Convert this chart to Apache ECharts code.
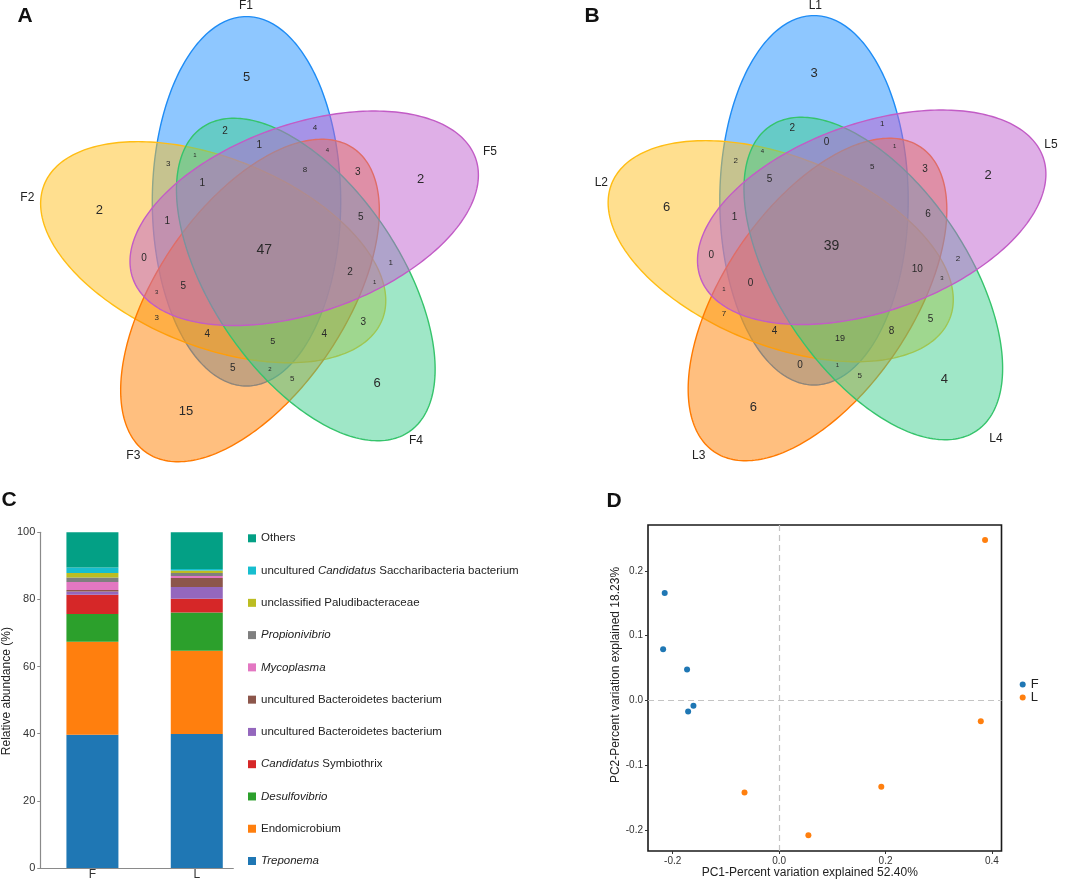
<!DOCTYPE html>
<html><head><meta charset="utf-8">
<script src="https://cdn.jsdelivr.net/npm/echarts@6/dist/echarts.min.js"></script>
<style>html,body{margin:0;padding:0;background:#fff}#c{width:1072px;height:881px}</style>
</head><body><div id="c"></div>
<script>
// ================= DATA =================
// Venn (A: F samples, B: L samples) – region counts
const SETS_A = ['F1', 'F2', 'F3', 'F4', 'F5'];
const SETS_B = ['L1', 'L2', 'L3', 'L4', 'L5'];
const COUNTS_A = [5, 2, 4, 1, 4, 1, 3, 8, 3, 2, 1, 2, 5, 1, 47, 0, 1, 2, 1, 5, 3, 3, 3, 4, 4, 5, 5, 2, 5, 6, 15];
const COUNTS_B = [3, 2, 1, 0, 1, 4, 2, 5, 3, 2, 5, 6, 6, 1, 39, 0, 2, 10, 3, 0, 1, 7, 5, 4, 8, 19, 0, 1, 5, 4, 6];

// Stacked bars (C)
const BAR_CATEGORIES = ['F', 'L'];
const TAXA = ['Treponema', 'Endomicrobium', 'Desulfovibrio', 'Candidatus Symbiothrix',
  'uncultured Bacteroidetes bacterium', 'uncultured Bacteroidetes bacterium', 'Mycoplasma',
  'Propionivibrio', 'unclassified Paludibacteraceae', 'uncultured Candidatus Saccharibacteria bacterium', 'Others'];
const F_ABUND = [39.7, 27.7, 8.3, 5.7, 1.0, 0.4, 2.4, 1.3, 1.4, 1.6, 10.5];
const L_ABUND = [39.9, 24.8, 11.4, 4.1, 3.5, 2.7, 0.6, 0.9, 0.7, 0.5, 10.9];
const ABUND_TICKS = [0, 20, 40, 60, 80, 100];

// PCoA (D)
const PCOA_F = [[-0.215, 0.166], [-0.218, 0.079], [-0.173, 0.048], [-0.161, -0.008], [-0.171, -0.017]];
const PCOA_L = [[0.387, 0.248], [0.379, -0.032], [0.192, -0.133], [0.055, -0.208], [-0.065, -0.142]];
const PC1_TICKS = [-0.2, 0.0, 0.2, 0.4];
const PC2_TICKS = [-0.2, -0.1, 0.0, 0.1, 0.2];

// ================= LAYOUT / STYLE =================
// ellipse geometry [cx, cy, semiMajor, semiMinor, angleDeg] in panel pixel units
const VENN_ELLIPSES = [
  [246.5, 201.3, 184.7, 94.2, 90],
  [213.2, 252.2, 182.0, 94.2, -21.8],
  [250.0, 300.5, 184.0, 94.2, 55.9],
  [305.8, 279.5, 184.0, 94.2, -55.9],
  [304.2, 218.3, 181.6, 94.2, 19.3]
];
const VENN_COLORS = [
  {fill: 'rgba(30,144,255,0.5)', stroke: '#1e8cf5'},
  {fill: 'rgba(255,192,31,0.5)', stroke: '#ffbd14'},
  {fill: 'rgba(255,128,0,0.5)', stroke: '#ff7a00'},
  {fill: 'rgba(64,208,144,0.5)', stroke: '#36c46c'},
  {fill: 'rgba(192,96,208,0.5)', stroke: '#c25cc6'}
];
// region label positions [x, y, fontSize] (panel A frame)
const REGION_LAYOUT = [
  [246.7, 77.3, 13], [225, 131.7, 10], [315, 127.7, 8], [259.3, 145.7, 10], [327.3, 150, 6],
  [195, 155, 6], [168.3, 164, 8], [305, 170, 8], [357.7, 172.3, 10], [420.7, 179, 13],
  [202.3, 183, 10], [99.3, 210.7, 13], [360.7, 217.3, 10], [167.3, 221, 10], [264.3, 250, 14],
  [144, 258.3, 10], [390.7, 262.3, 8], [350, 272.3, 10], [374.7, 282.3, 6], [183.3, 286.7, 10],
  [156.7, 292.7, 6], [156.7, 317.3, 8], [363.3, 322.7, 10], [207.3, 334.3, 10], [324.3, 334.3, 10],
  [272.7, 341.7, 9], [232.7, 368.7, 10], [270, 369, 6], [292.3, 379, 8], [377, 383.3, 13],
  [186, 411.3, 13]
];
const SET_POS_A = [[246, 6], [27.3, 197.3], [133.3, 455.7], [416, 441], [490, 151.7]];
const SET_POS_B = [[279.3, 6], [65.3, 182.3], [162.7, 455.7], [460, 438.3], [515, 144.3]];
const B_ELLIPSE_SHIFT = [31.5, -1];
const B_LABEL_SHIFT = [31.3, -3.5];

const TAXA_COLORS = ['#1f77b4', '#ff7f0e', '#2ca02c', '#d62728', '#9467bd', '#8c564b', '#e377c2',
  '#7f7f7f', '#bcbd22', '#17becf', '#03a085'];
const TAXA_RICH = ['{i|Treponema}', '{n|Endomicrobium}', '{i|Desulfovibrio}', '{i|Candidatus}{n| Symbiothrix}',
  '{n|uncultured Bacteroidetes bacterium}', '{n|uncultured Bacteroidetes bacterium}', '{i|Mycoplasma}',
  '{i|Propionivibrio}', '{n|unclassified Paludibacteraceae}',
  '{n|uncultured }{i|Candidatus}{n| Saccharibacteria bacterium}', '{n|Others}'];
const BAR_POS = [0.5, 1.5];

const FONT = 'Liberation Sans, Arial, Helvetica, sans-serif';
const chart = echarts.init(document.getElementById('c'), null, {renderer: 'canvas'});

// unique series names for duplicated taxon names (zero-width suffix)
const seriesNames = TAXA.map((t, i) => TAXA.indexOf(t) === i ? t : t + '\u200b');

function ellipseRender(dx, dy) {
  return function (params, api) {
    const cx = api.value(0) + dx, cy = api.value(1) + dy, a = api.value(2), b = api.value(3);
    const th = api.value(4) * Math.PI / 180;
    const pts = [];
    for (let k = 0; k < 240; k++) {
      const t = k / 240 * 2 * Math.PI;
      const x = cx + a * Math.cos(t) * Math.cos(th) - b * Math.sin(t) * Math.sin(th);
      const y = cy - (a * Math.cos(t) * Math.sin(th) + b * Math.sin(t) * Math.cos(th));
      pts.push(api.coord([x, y]));
    }
    const col = VENN_COLORS[params.dataIndex];
    return {type: 'polygon', shape: {points: pts}, style: {fill: col.fill, stroke: col.stroke, lineWidth: 1.4}};
  };
}
function textRender(params, api) {
  const p = api.coord([api.value(0), api.value(1)]);
  return {type: 'text', x: p[0], y: p[1], style: {
    text: String(api.value(2)), fontSize: api.value(3), fontFamily: FONT, fill: '#2a2a2a',
    align: 'center', verticalAlign: 'middle', textAlign: 'center', textVerticalAlign: 'middle'}};
}
function setLabelRender(params, api) {
  const p = api.coord([api.value(0), api.value(1)]);
  return {type: 'text', x: p[0], y: p[1], style: {
    text: api.value(2), fontSize: 12, fontFamily: FONT, fill: '#222',
    align: 'center', verticalAlign: 'middle', textAlign: 'center', textVerticalAlign: 'middle'}};
}

const vennAxis = (gi) => ({gridIndex: gi, type: 'value', min: 0, max: 536, show: false});
const vennYAxis = (gi) => ({gridIndex: gi, type: 'value', min: 0, max: 520, inverse: true, show: false});

const regionA = REGION_LAYOUT.map((p, i) => [p[0], p[1], COUNTS_A[i], p[2]]);
const regionB = REGION_LAYOUT.map((p, i) => [p[0] + B_LABEL_SHIFT[0], p[1] + B_LABEL_SHIFT[1], COUNTS_B[i], p[2]]);
const setA = SET_POS_A.map((p, i) => [p[0], p[1], SETS_A[i]]);
const setB = SET_POS_B.map((p, i) => [p[0], p[1], SETS_B[i]]);

// value first so that the y dimension is the stacked one
const barSeries = TAXA.map((t, i) => ({
  name: seriesNames[i], type: 'bar', xAxisIndex: 2, yAxisIndex: 2, stack: 'abund', barWidth: 52,
  itemStyle: {color: TAXA_COLORS[i]},
  dimensions: ['abund', 'pos'], encode: {x: 1, y: 0},
  data: [[F_ABUND[i], BAR_POS[0]], [L_ABUND[i], BAR_POS[1]]]
}));

const option = {
  animation: false,
  textStyle: {fontFamily: FONT},
  grid: [
    {left: 0, top: 0, width: 536, height: 520},
    {left: 536, top: 0, width: 536, height: 520},
    {left: 39, top: 532.3, width: 194.3, height: 336.7},
    {left: 648, top: 525, width: 353.5, height: 326, show: true, borderColor: '#1a1a1a', borderWidth: 1.6}
  ],
  xAxis: [
    vennAxis(0), vennAxis(1),
    {gridIndex: 2, type: 'value', min: 0, max: 1.85, splitLine: {show: false},
      axisLine: {show: true, onZero: false, lineStyle: {color: '#8a8a8a', width: 1.2}},
      axisTick: {show: false},
      axisLabel: {customValues: BAR_POS, formatter: v => BAR_CATEGORIES[Math.round(v - 0.5)], fontSize: 12, color: '#333', margin: 1}},
    {gridIndex: 3, type: 'value', min: -0.2464, max: 0.4179, splitLine: {show: false},
      axisLine: {show: false, onZero: false},
      axisTick: {show: true, customValues: PC1_TICKS, length: 3, lineStyle: {color: '#333'}},
      axisLabel: {customValues: PC1_TICKS, formatter: v => v.toFixed(1), fontSize: 10, color: '#333', margin: 5},
      name: 'PC1-Percent variation explained 52.40%', nameLocation: 'middle', nameGap: 14,
      nameTextStyle: {fontSize: 12, color: '#222', padding: [0, 30, 0, 0]}}
  ],
  yAxis: [
    vennYAxis(0), vennYAxis(1),
    {gridIndex: 2, type: 'value', min: 0, max: 100, interval: 20, splitLine: {show: false},
      axisLine: {show: true, onZero: false, lineStyle: {color: '#8a8a8a', width: 1.2}},
      axisTick: {show: true, length: 3, lineStyle: {color: '#8a8a8a'}},
      axisLabel: {fontSize: 11, color: '#333', margin: 5},
      name: 'Relative abundance (%)', nameLocation: 'middle', nameGap: 23,
      nameTextStyle: {fontSize: 12, color: '#222', padding: [0, 0, 0, 18]}},
    {gridIndex: 3, type: 'value', min: -0.2324, max: 0.271, splitLine: {show: false},
      axisLine: {show: false, onZero: false},
      axisTick: {show: true, customValues: PC2_TICKS, length: 3, lineStyle: {color: '#333'}},
      axisLabel: {customValues: PC2_TICKS, formatter: v => v.toFixed(1), fontSize: 10, color: '#333', margin: 5},
      name: 'PC2-Percent variation explained 18.23%', nameLocation: 'middle', nameGap: 20,
      nameTextStyle: {fontSize: 12, color: '#222', padding: [0, 0, 0, 26]}}
  ],
  legend: [
    {data: seriesNames.slice().reverse(), orient: 'vertical', left: 248, top: 531.3, padding: 0,
      icon: 'rect', itemWidth: 8, itemHeight: 8, itemGap: 18.27, selectedMode: false,
      formatter: name => TAXA_RICH[seriesNames.indexOf(name)],
      textStyle: {fontSize: 11.5, lineHeight: 14, color: '#222',
        rich: {n: {fontSize: 11.5, lineHeight: 14, color: '#222', fontFamily: FONT},
               i: {fontSize: 11.5, lineHeight: 14, color: '#222', fontStyle: 'italic', fontFamily: FONT}}}},
    {data: ['F', 'L'], orient: 'vertical', left: 1019.7, top: 678, padding: 0, icon: 'circle',
      itemWidth: 6, itemHeight: 6, itemGap: 0, selectedMode: false,
      textStyle: {fontSize: 13, lineHeight: 12.7, color: '#222'}}
  ],
  graphic: [
    {type: 'text', x: 25, y: 16, style: {text: 'A', font: 'bold 21px ' + FONT, fill: '#111', textAlign: 'center', textVerticalAlign: 'middle', align: 'center', verticalAlign: 'middle'}},
    {type: 'text', x: 592, y: 16, style: {text: 'B', font: 'bold 21px ' + FONT, fill: '#111', textAlign: 'center', textVerticalAlign: 'middle', align: 'center', verticalAlign: 'middle'}},
    {type: 'text', x: 9, y: 500, style: {text: 'C', font: 'bold 21px ' + FONT, fill: '#111', textAlign: 'center', textVerticalAlign: 'middle', align: 'center', verticalAlign: 'middle'}},
    {type: 'text', x: 614, y: 501, style: {text: 'D', font: 'bold 21px ' + FONT, fill: '#111', textAlign: 'center', textVerticalAlign: 'middle', align: 'center', verticalAlign: 'middle'}}
  ],
  series: [
    {name: 'vennA', type: 'custom', xAxisIndex: 0, yAxisIndex: 0, renderItem: ellipseRender(0, 0),
      dimensions: ['cx', 'cy', 'a', 'b', 'ang'], encode: {x: 0, y: 1}, data: VENN_ELLIPSES, silent: true},
    {name: 'vennB', type: 'custom', xAxisIndex: 1, yAxisIndex: 1, renderItem: ellipseRender(B_ELLIPSE_SHIFT[0], B_ELLIPSE_SHIFT[1]),
      dimensions: ['cx', 'cy', 'a', 'b', 'ang'], encode: {x: 0, y: 1}, data: VENN_ELLIPSES, silent: true},
    {name: 'countsA', type: 'custom', xAxisIndex: 0, yAxisIndex: 0, renderItem: textRender, z: 5,
      dimensions: ['x', 'y', 'n', 's'], encode: {x: 0, y: 1}, data: regionA, silent: true},
    {name: 'countsB', type: 'custom', xAxisIndex: 1, yAxisIndex: 1, renderItem: textRender, z: 5,
      dimensions: ['x', 'y', 'n', 's'], encode: {x: 0, y: 1}, data: regionB, silent: true},
    {name: 'setsA', type: 'custom', xAxisIndex: 0, yAxisIndex: 0, renderItem: setLabelRender, z: 5,
      dimensions: ['x', 'y', {name: 'lab', type: 'ordinal'}], encode: {x: 0, y: 1}, data: setA, silent: true},
    {name: 'setsB', type: 'custom', xAxisIndex: 1, yAxisIndex: 1, renderItem: setLabelRender, z: 5,
      dimensions: ['x', 'y', {name: 'lab', type: 'ordinal'}], encode: {x: 0, y: 1}, data: setB, silent: true},
    ...barSeries,
    {name: 'F', type: 'scatter', xAxisIndex: 3, yAxisIndex: 3, symbolSize: 6, itemStyle: {color: '#1f77b4', opacity: 1}, data: PCOA_F,
      markLine: {silent: true, symbol: 'none', label: {show: false}, animation: false,
        lineStyle: {type: [6, 4], color: '#c4c4c4', width: 1.2}, data: [{xAxis: 0}, {yAxis: 0}]}},
    {name: 'L', type: 'scatter', xAxisIndex: 3, yAxisIndex: 3, symbolSize: 6, itemStyle: {color: '#ff7f0e', opacity: 1}, data: PCOA_L}
  ]
};
chart.setOption(option);
</script></body></html>
